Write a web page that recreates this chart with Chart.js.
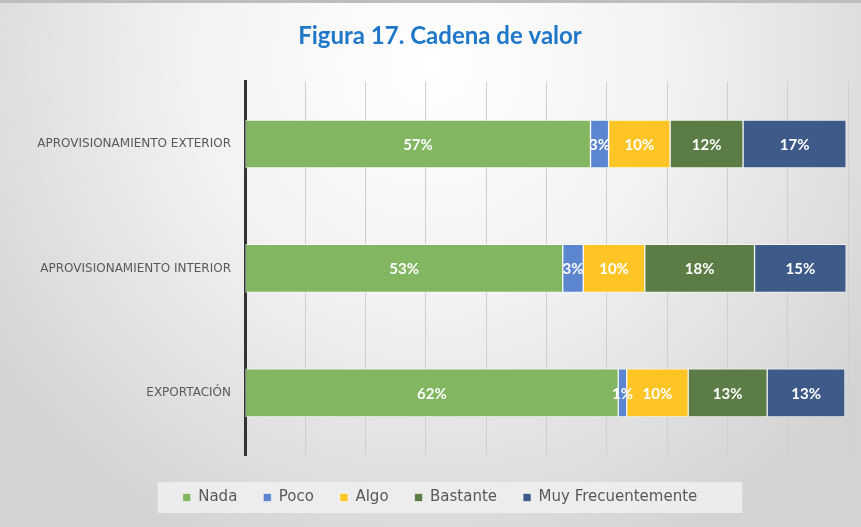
<!DOCTYPE html>
<html><head><meta charset="utf-8">
<script src="https://cdn.jsdelivr.net/npm/chart.js@4/dist/chart.umd.min.js"></script>
<style>html,body{margin:0;padding:0;background:#fff}#wrap{width:861px;height:527px}</style>
</head><body><div id="wrap"><canvas id="c" width="861" height="527"></canvas></div>
<script>
const titleText = 'Figura 17. Cadena de valor';
const categories = ['APROVISIONAMIENTO EXTERIOR', 'APROVISIONAMIENTO INTERIOR', 'EXPORTACIÓN'];
const seriesNames = ['Nada', 'Poco', 'Algo', 'Bastante', 'Muy Frecuentemente'];
const nada = [57.3, 52.7, 61.9];
const poco = [3.0, 3.4, 1.4];
const algo = [10.2, 10.2, 10.2];
const bastante = [12.1, 18.2, 13.1];
const muy = [17.1, 15.2, 12.9];
const colors = ['#82b661', '#5b86cf', '#fec525', '#5b7c45', '#3e5a88'];
const allValues = [nada, poco, algo, bastante, muy];

const bgPlugin = {
  id: 'bg',
  beforeDraw(chart) {
    const ctx = chart.ctx, w = chart.width, h = chart.height;
    ctx.save();
    const g = ctx.createRadialGradient(w*0.5, h*0.12, 0, w*0.5, h*0.12, w*0.62);
    g.addColorStop(0, '#ffffff');
    g.addColorStop(0.45, '#f2f2f2');
    g.addColorStop(1, '#d3d3d3');
    ctx.fillStyle = g;
    ctx.fillRect(0, 0, w, h);
    ctx.fillStyle = '#bdbdbd';
    ctx.fillRect(0, 0, w, 3);
    const boxes = chart.legend && chart.legend.legendHitBoxes;
    if (boxes && boxes.length) {
      let l = Infinity, r = -Infinity, t = Infinity, b = -Infinity;
      boxes.forEach(bx => { l = Math.min(l, bx.left); r = Math.max(r, bx.left + bx.width); t = Math.min(t, bx.top); b = Math.max(b, bx.top + bx.height); });
      ctx.fillStyle = 'rgba(238,238,238,0.9)';
      ctx.fillRect(l - 25, t - 8, (r - l) + 70, (b - t) + 16);
    }
    ctx.restore();
  }
};

const labelPlugin = {
  id: 'vals',
  afterDatasetsDraw(chart) {
    const ctx = chart.ctx;
    ctx.save();
    ctx.font = 'bold 15px Lato, "Open Sans", sans-serif';
    ctx.fillStyle = '#ffffff';
    ctx.textAlign = 'center';
    ctx.textBaseline = 'middle';
    chart.data.datasets.forEach((ds, i) => {
      const meta = chart.getDatasetMeta(i);
      meta.data.forEach((bar, j) => {
        const v = ds.data[j];
        const p = bar.getProps(['x', 'y', 'base'], true);
        ctx.fillText(Math.round(v) + '%', (p.x + p.base) / 2, p.y + 1);
      });
    });
    ctx.restore();
  }
};

new Chart(document.getElementById('c'), {
  type: 'bar',
  data: {
    labels: categories,
    datasets: seriesNames.map((n, i) => ({
      label: n,
      data: allValues[i],
      backgroundColor: colors[i],
      borderColor: 'rgba(255,255,255,0.55)',
      borderWidth: 1,
      borderSkipped: false,
      barThickness: 48
    }))
  },
  options: {
    indexAxis: 'y',
    responsive: false,
    animation: false,
    devicePixelRatio: 1,
    layout: { padding: { top: 22, right: 13, bottom: 12, left: 32 } },
    scales: {
      x: {
        stacked: true, min: 0, max: 100,
        ticks: { display: false, stepSize: 10 },
        grid: { color: '#cfcfcf', lineWidth: 1, drawTicks: false },
        border: { display: false },
        afterFit(s) { s.height = 9; }
      },
      y: {
        stacked: true,
        grid: { display: false, drawTicks: false },
        border: { display: true, color: '#333333', width: 3 },
        ticks: { color: '#595959', padding: 14, font: { family: '"DejaVu Sans", sans-serif', size: 12 } },
        afterFit(s) { s.width = 213; }
      }
    },
    plugins: {
      title: {
        display: true, text: titleText, color: '#1e77c8',
        font: { family: 'Lato, "Open Sans", sans-serif', size: 24, weight: 'bold' },
        padding: { top: 0, bottom: 31 }
      },
      legend: {
        position: 'bottom',
        labels: {
          color: '#595959', boxWidth: 8, boxHeight: 8, padding: 26,
          font: { family: '"DejaVu Sans", sans-serif', size: 15 }
        }
      },
      tooltip: { enabled: false }
    }
  },
  plugins: [bgPlugin, labelPlugin]
});
</script></body></html>
